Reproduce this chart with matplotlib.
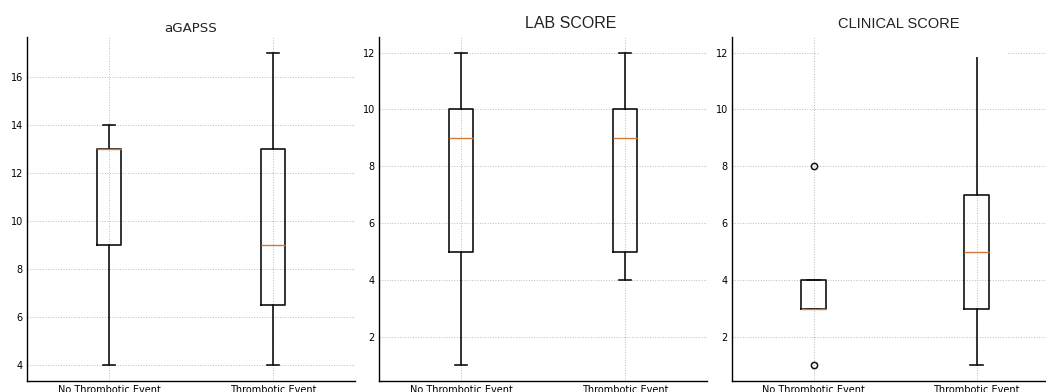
import matplotlib
matplotlib.use('Agg')
import matplotlib.pyplot as plt
from matplotlib.patches import Rectangle

# datos (min, q1, mediana, q3, max, atipicos)
grupos = ['No Thrombotic Event', 'Thrombotic Event']
titulos = ['aGAPSS', 'LAB SCORE', 'CLINICAL SCORE']

agapss_lo = [4, 4]
agapss_q1 = [9, 6.5]
agapss_med = [13, 9]
agapss_q3 = [13, 13]
agapss_hi = [14, 17]
agapss_out = [[], []]

lab_lo = [1, 4]
lab_q1 = [5, 5]
lab_med = [9, 9]
lab_q3 = [10, 10]
lab_hi = [12, 12]
lab_out = [[], []]

clin_lo = [3, 1]
clin_q1 = [3, 3]
clin_med = [3, 5]
clin_q3 = [4, 7]
clin_hi = [4, 12]
clin_out = [[8, 1], []]

paneles = [
    (agapss_lo, agapss_q1, agapss_med, agapss_q3, agapss_hi, agapss_out),
    (lab_lo, lab_q1, lab_med, lab_q3, lab_hi, lab_out),
    (clin_lo, clin_q1, clin_med, clin_q3, clin_hi, clin_out),
]

W, H = 1046, 392
fig = plt.figure(figsize=(W / 100, H / 100), dpi=100)

# posiciones de los ejes en pixeles (izq, ancho)
cajas = [(27, 328), (379, 328), (732, 326)]
y_bottom, y_top = 381, 37
# titulo: x relativo al eje, y en pixeles, fuente, tamano
tit_cfg = [(0.5, 28, 'DejaVu Sans', 9.6),
           (0.585, 23, 'Liberation Sans', 11.5),
           (0.512, 24, 'Liberation Sans', 10.5)]

for i, (lo, q1, med, q3, hi, out) in enumerate(paneles):
    left, width = cajas[i]
    ax = fig.add_axes([left / W, (H - y_bottom) / H, width / W, (y_bottom - y_top) / H])
    stats = []
    for j in range(2):
        stats.append(dict(whislo=lo[j], q1=q1[j], med=med[j], q3=q3[j],
                          whishi=hi[j], fliers=out[j], label=grupos[j]))
    ax.bxp(stats, widths=0.15,
           boxprops=dict(color='#111111', linewidth=1.2),
           whiskerprops=dict(color='#111111', linewidth=1.2),
           capprops=dict(color='#111111', linewidth=1.2),
           medianprops=dict(color='#d0793a', linewidth=1.0),
           flierprops=dict(marker='o', markerfacecolor='none',
                           markeredgecolor='#111111', markersize=4.5, markeredgewidth=1.1))
    ax.margins(y=0.05)
    ax.set_xlim(0.5, 2.5)
    ax.grid(True, linestyle=':', color='#bbbbbb', linewidth=0.7)
    ax.set_axisbelow(True)
    for s in ['top', 'right']:
        ax.spines[s].set_visible(False)
    for s in ['left', 'bottom']:
        ax.spines[s].set_linewidth(1.0)
    ax.tick_params(length=0, pad=3, labelsize=7)
    tx, ty, fam, fs = tit_cfg[i]
    fig.text((left + tx * width) / W, 1 - ty / H, titulos[i], ha='center', va='center',
             family=fam, fontsize=fs, color='#222222', zorder=5)

# recuadro blanco detras del titulo del tercer panel (como en la imagen original)
fig.patches.append(Rectangle((820 / W, 1 - 57 / H), 188 / W, 57 / H,
                             transform=fig.transFigure, facecolor='white',
                             edgecolor='none', zorder=2))

fig.savefig('out.png', dpi=100, facecolor='white')
